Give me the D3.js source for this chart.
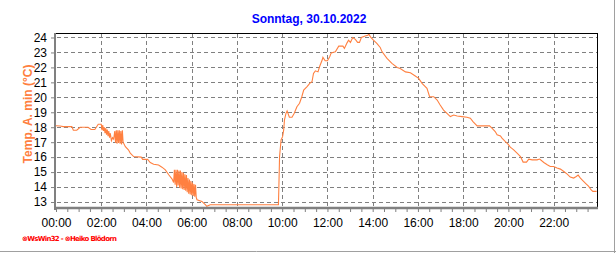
<!DOCTYPE html>
<html>
<head>
<meta charset="utf-8">
<script src="https://cdn.jsdelivr.net/npm/d3@7"></script>
<style>
  body { margin: 0; background: #fff; }
  svg { display: block; font-family: "Liberation Sans", Arial, sans-serif; }
</style>
</head>
<body>
<div id="vis"></div>
<script>

const title = "Sonntag, 30.10.2022"
const yLabel = "Temp. A. min (°C)"
const footer = "\u2297WsWin32 - \u2297Heiko Blödorn"
const day = "2022-10-30"

const yTicks = [13, 14, 15, 16, 17, 18, 19, 20, 21, 22, 23, 24]

// readings
const times = [
  "00:00", "00:11", "00:19", "00:42", "00:46", "00:55", "01:04", "01:25", "01:33", "01:43", "01:52",
  "02:00", "02:02", "02:04", "02:06", "02:08", "02:10", "02:12", "02:14", "02:16", "02:18", "02:20",
  "02:22", "02:24", "02:27", "02:30", "02:33", "02:36", "02:38", "02:40", "02:42", "02:44", "02:46",
  "02:48", "02:50", "02:52", "02:54", "02:56", "02:58",
  "03:04", "03:12", "03:17", "03:26", "03:46", "03:50", "04:03", "04:10", "04:19", "04:32", "04:41",
  "04:50", "04:59", "05:08", "05:12",
  "05:14", "05:16", "05:18", "05:20", "05:22", "05:24", "05:26", "05:28", "05:30", "05:32", "05:34",
  "05:36", "05:38", "05:40", "05:42", "05:44", "05:46", "05:48", "05:50", "05:52", "05:54", "05:56",
  "05:58", "06:00", "06:02", "06:04", "06:06", "06:08", "06:10", "06:12",
  "06:14", "06:27", "06:36", "06:40", "06:49", "09:50", "09:51", "09:53", "09:57", "10:01", "10:04",
  "10:06", "10:10", "10:13", "10:19", "10:26", "10:32", "10:39", "10:46", "10:52", "10:57", "11:06",
  "11:13", "11:19", "11:23", "11:28", "11:35", "11:39", "11:46", "11:48", "11:54", "12:00", "12:06",
  "12:10", "12:21", "12:30", "12:41", "12:45", "12:52", "12:56", "13:01", "13:07", "13:14", "13:20",
  "13:25", "13:30", "13:40", "13:47", "13:50", "13:54", "14:02", "14:11", "14:20", "14:25", "14:38",
  "14:51", "15:05", "15:13", "15:27", "15:40", "15:53", "16:02", "16:11", "16:24", "16:31", "16:42",
  "16:51", "16:59", "17:08", "17:17", "17:26", "17:35", "17:44", "17:57", "18:10", "18:19", "18:26",
  "18:37", "19:10", "19:17", "19:25", "19:30", "19:39", "19:43", "19:52", "19:59", "20:05", "20:14",
  "20:23", "20:32", "20:39", "20:48", "20:54", "21:03", "21:16", "21:23", "21:34", "21:43", "21:51",
  "22:00", "22:09", "22:18", "22:27", "22:36", "22:44", "22:53", "23:00", "23:05", "23:11", "23:18",
  "23:26", "23:33", "23:39", "23:44", "23:54"
]
const temps = [
  18.1, 18.08, 18.04, 18.04, 17.8, 17.8, 18.0, 18.0, 17.85, 17.85, 18.2,
  18.2, 17.8, 18.15, 17.75, 18.0, 17.6, 17.95, 17.5, 17.85, 17.4, 17.75,
  17.3, 17.6, 17.1, 17.3, 17.2, 17.75, 16.95, 17.8, 16.9, 17.8, 16.95,
  17.8, 16.9, 17.75, 16.85, 17.8, 17.0,
  16.7, 16.49, 16.27, 16.04, 16.0, 15.85, 15.85, 15.64, 15.53, 15.47, 15.33,
  15.15, 14.82, 14.53, 14.31,
  15.15, 14.15, 15.15, 14.0, 15.15, 14.1, 15.1, 13.95, 15.1, 13.9, 15.0,
  13.85, 14.95, 13.8, 14.85, 13.75, 14.8, 13.65, 14.6, 13.55, 14.5, 13.5,
  14.4, 13.45, 14.3, 13.4, 14.2, 13.35, 14.15, 13.3,
  13.15, 13.04, 12.82, 12.71, 12.82, 12.82, 13.82, 16.04, 17.15, 17.37, 17.82,
  18.49, 18.93, 19.09, 18.67, 18.67, 18.93, 19.37, 19.6, 20.04, 20.49, 20.71,
  20.93, 21.04, 21.6, 21.77, 21.7, 22.04, 22.49, 22.67, 22.44, 22.44, 22.71,
  22.97, 23.04, 23.42, 23.42, 23.27, 23.64, 23.82, 23.67, 24.0, 23.87, 23.67,
  23.67, 24.0, 24.1, 24.15, 24.22, 24.04, 23.82, 23.6, 23.33, 23.04, 22.6,
  22.27, 22.0, 21.93, 21.7, 21.64, 21.42, 21.27, 20.93, 20.6, 20.04, 20.04,
  19.82, 19.49, 19.15, 18.93, 18.71, 18.82, 18.75, 18.71, 18.67, 18.6, 18.37,
  18.09, 18.09, 17.93, 17.71, 17.49, 17.42, 17.27, 17.04, 16.87, 16.67, 16.49,
  16.27, 16.04, 15.67, 15.67, 15.87, 15.82, 15.82, 15.87, 15.64, 15.49, 15.37,
  15.37, 15.27, 15.2, 15.04, 14.87, 14.67, 14.6, 14.71, 14.8, 14.6, 14.42,
  14.22, 14.04, 13.82, 13.71, 13.71
]

const W = 616
const H = 253
const plot = {left: 56, right: 597, top: 33, bottom: 208}
const lineColor = "#ff8040"
const gridColor = "#808080"

const parseTime = d3.timeParse("%Y-%m-%d %H:%M")
const data = times.map((t, i) => ({date: parseTime(day + " " + t), temp: temps[i]}))

const svg = d3.select("#vis")
    .append("svg")
    .attr("width", W)
    .attr("height", H)

let x = d3.scaleTime()
    .domain([parseTime(day + " 00:00"), parseTime(day + " 23:55")])
    .range([plot.left, plot.right])

let y = d3.scaleLinear()
    .domain([12.6, 24.3])
    .range([plot.bottom, plot.top])

const majorTicks = d3.timeHour.every(2).range(parseTime(day + " 00:00"), parseTime(day + " 23:00"))
const minorTicks = d3.timeMinute.every(30).range(parseTime(day + " 00:00"), parseTime(day + " 23:56"))

// outer frame (right + bottom only)
svg.append("line")
    .attr("x1", W - 1.5).attr("x2", W - 1.5)
    .attr("y1", 0).attr("y2", H)
    .attr("stroke", "#a0a0a0").attr("stroke-width", 1)
svg.append("line")
    .attr("x1", 0).attr("x2", W)
    .attr("y1", H - 1.5).attr("y2", H - 1.5)
    .attr("stroke", "#a0a0a0").attr("stroke-width", 1)

// dashed grid
svg.selectAll(".hgrid")
    .data(yTicks)
    .enter()
    .append("line")
    .attr("class", "hgrid")
    .attr("x1", plot.left + 1)
    .attr("x2", plot.right)
    .attr("y1", d => Math.round(y(d)) + 0.5)
    .attr("y2", d => Math.round(y(d)) + 0.5)
    .attr("stroke", gridColor)
    .attr("stroke-dasharray", "4,3")

svg.selectAll(".vgrid")
    .data(majorTicks.slice(1))
    .enter()
    .append("line")
    .attr("class", "vgrid")
    .attr("x1", d => Math.round(x(d)) + 0.5)
    .attr("x2", d => Math.round(x(d)) + 0.5)
    .attr("y1", plot.top + 1)
    .attr("y2", plot.bottom)
    .attr("stroke", gridColor)
    .attr("stroke-dasharray", "4,3")

// the temperature line
const line = d3.line()
    .x(d => x(d.date))
    .y(d => y(d.temp))

svg.append("path")
    .datum(data)
    .attr("d", line)
    .attr("fill", "none")
    .attr("stroke", lineColor)
    .attr("stroke-width", 1.1)

// frame: black top/right, gray left/bottom axes
svg.append("line")
    .attr("x1", plot.left).attr("x2", plot.right + 1)
    .attr("y1", plot.top + 0.5).attr("y2", plot.top + 0.5)
    .attr("stroke", "#000")
svg.append("line")
    .attr("x1", plot.right + 0.5).attr("x2", plot.right + 0.5)
    .attr("y1", plot.top).attr("y2", plot.bottom)
    .attr("stroke", "#000")

let yAxis = svg.append("g")
    .attr("transform", `translate(${plot.left - 1},0)`)
    .call(d3.axisLeft(y).tickValues(yTicks).tickSize(4).tickPadding(4))
yAxis.select(".domain").attr("stroke", gridColor).attr("stroke-width", 2)
    .attr("d", `M0,${plot.top}V${plot.bottom + 2}`)
yAxis.selectAll(".tick line").attr("stroke", gridColor)
yAxis.selectAll(".tick text")
    .style("font-size", "12px")
    .attr("fill", "#000")

let xAxis = svg.append("g")
    .attr("transform", `translate(0,${plot.bottom})`)
    .call(d3.axisBottom(x).tickValues(minorTicks).tickSize(4).tickFormat(""))
xAxis.select(".domain").attr("stroke", gridColor).attr("stroke-width", 2.5)
    .attr("d", `M${plot.left - 2},0H${plot.right + 1}`)
xAxis.selectAll(".tick line").attr("stroke", gridColor)

let xLabels = svg.append("g")
    .attr("transform", `translate(0,${plot.bottom})`)
    .call(d3.axisBottom(x).tickValues(majorTicks).tickSize(0).tickPadding(10).tickFormat(d3.timeFormat("%H:%M")))
xLabels.select(".domain").remove()
xLabels.selectAll(".tick text")
    .style("font-size", "12px")
    .attr("fill", "#000")

// texts
svg.append("text")
    .attr("x", 309)
    .attr("y", 23)
    .attr("text-anchor", "middle")
    .style("font-size", "12px")
    .style("font-weight", "bold")
    .attr("fill", "#0000ff")
    .text(title)

svg.append("text")
    .attr("transform", "rotate(-90)")
    .attr("x", -114)
    .attr("y", 32)
    .attr("text-anchor", "middle")
    .style("font-size", "12px")
    .style("font-weight", "bold")
    .attr("fill", lineColor)
    .text(yLabel)

svg.append("text")
    .attr("x", 22)
    .attr("y", 241)
    .style("font-size", "7px")
    .style("font-weight", "bold")
    .style("font-family", "'DejaVu Sans', sans-serif")
    .attr("textLength", 95)
    .attr("fill", "#ff0000")
    .text(footer)

</script>
</body>
</html>
